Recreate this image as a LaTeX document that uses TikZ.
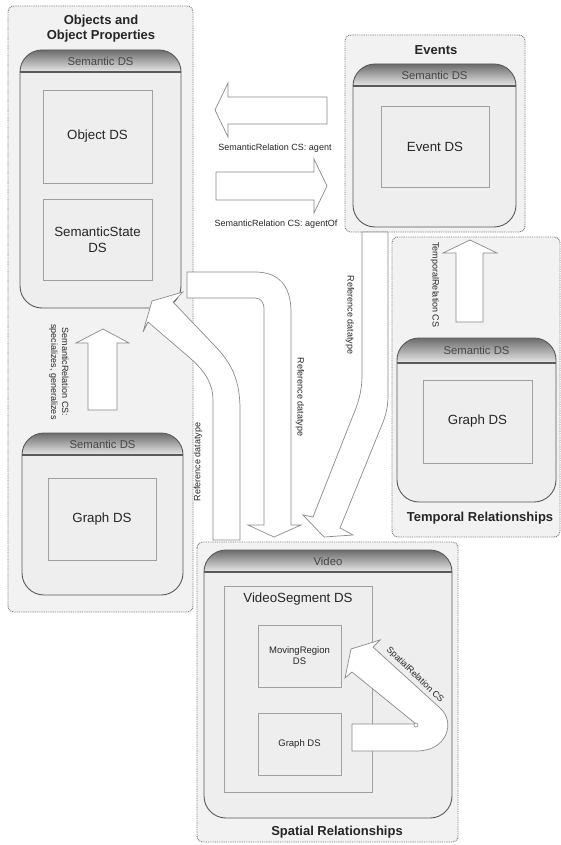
\documentclass[tikz,border=0pt]{standalone}
\usepackage{fontspec}
\setmainfont{Liberation Sans}
\definecolor{grpline}{HTML}{7A7A7A}
\definecolor{grpfill}{HTML}{F2F2F2}
\definecolor{semline}{HTML}{5A5A5A}
\definecolor{semfillc}{HTML}{EEEEEE}
\definecolor{hdtop}{HTML}{6C6C6C}
\definecolor{hdbot}{HTML}{E8E8E8}
\definecolor{boxline}{HTML}{A0A0A0}
\definecolor{arrline}{HTML}{8A8A8A}
\definecolor{txt}{HTML}{262626}

% rounded "Semantic DS"-style container with a shaded title bar
% #1 name, #2 left, #3 top, #4 right, #5 bottom, #6 bar bottom, #7 title
\newcommand\semdsbox[7]{%
  \fill[semfillc, rounded corners=22pt] (#2,#3) rectangle (#4,#5);
  \begin{scope}
    \clip[rounded corners=22pt] (#2,#3) rectangle (#4,#5);
    \shade[top color=hdtop, bottom color=hdbot] (#2,#3) rectangle (#4,#6);
  \end{scope}
  \draw[semline, line width=1.3pt] (#2,#6) -- (#4,#6);
  \draw[semframe] (#2,#3) rectangle (#4,#5);
  \node[hdtext] (#1) at ({(#2+#4)/2},{(#3+#6)/2}) {#7};
}

\begin{document}
\begin{tikzpicture}[x=1pt, y=1pt,
  groupbox/.style={draw=grpline, fill=grpfill, rounded corners=6pt,
    dash pattern=on 0.9pt off 0.9pt, line width=0.9pt},
  grouptitle/.style={font=\bfseries\fontsize{13}{15}\selectfont, text=txt, align=center, inner sep=0pt},
  semframe/.style={draw=semline, line width=0.9pt, rounded corners=22pt},
  hdtext/.style={font=\fontsize{11.3}{13}\selectfont, text=txt!85, inner sep=0pt},
  innerbox/.style={draw=boxline, fill=semfillc, line width=0.8pt, text=txt,
    font=\fontsize{13.3}{16}\selectfont, align=center, inner sep=0pt},
  smallbox/.style={innerbox, font=\fontsize{9.5}{11}\selectfont},
  blockarrow/.style={draw=arrline, fill=white, line width=0.7pt, line join=miter},
  lbl/.style={font=\fontsize{9}{11}\selectfont, text=txt, inner sep=0pt, align=center},
]
\useasboundingbox (0,0) rectangle (561,-845);
\fill[white] (0,0) rectangle (561,-845);

% ---- grouping frames ----
\draw[groupbox] (8,-6) rectangle (193,-612);
\draw[groupbox] (345,-35) rectangle (525,-232);
\draw[groupbox] (392,-237) rectangle (560,-537);
\draw[groupbox] (197,-542) rectangle (458,-842);

\node[grouptitle] (objtitle) at (101,-28.5) {Objects and\\Object Properties};
\node[grouptitle] (evtitle) at (436,-50) {Events};
\node[grouptitle] (temptitle) at (480,-518) {Temporal Relationships};
\node[grouptitle] (spattitle) at (337,-832) {Spatial Relationships};

% ---- description scheme containers ----
\semdsbox{objsem}{20}{-50}{181}{-308}{-72}{Semantic DS}
\semdsbox{graphsem}{22}{-433}{183}{-595}{-455}{Semantic DS}
\semdsbox{eventsem}{353}{-64}{516}{-227}{-86}{Semantic DS}
\semdsbox{tempsem}{397}{-338}{556}{-502}{-363}{Semantic DS}
\semdsbox{video}{204}{-550}{452}{-818}{-572}{Video}

\node[innerbox, minimum width=109pt, minimum height=93pt] (objectds) at (97.5,-136.5) {Object DS};
\node[innerbox, minimum width=109pt, minimum height=81pt] (semstate) at (97.5,-239.5) {SemanticState\\DS};
\node[innerbox, minimum width=108pt, minimum height=82pt] (objgraph) at (102,-519) {Graph DS};
\node[innerbox, minimum width=108pt, minimum height=81pt] (eventds) at (435,-146.5) {Event DS};
\node[innerbox, minimum width=109pt, minimum height=83pt] (tempgraph) at (477.5,-421.5) {Graph DS};
\node[innerbox, minimum width=148pt, minimum height=206pt] (vseg) at (298,-689) {};
\node[innerbox, draw=none, fill=none] (vseglbl) at (298,-599) {VideoSegment DS};
\node[smallbox, minimum width=83pt, minimum height=62pt] (movreg) at (299.5,-656) {MovingRegion\\DS};
\node[smallbox, minimum width=83pt, minimum height=62pt] (vidgraph) at (299.5,-744) {Graph DS};

% ---- straight block arrows ----
% agent
\draw[blockarrow] (215,-110) -- (228,-83) -- (228,-97) -- (327,-97) -- (327,-124)
  -- (228,-124) -- (228,-137) -- cycle;
\node[lbl] (agentlbl) at (275,-148) {SemanticRelation CS: agent};
% agentOf
\draw[blockarrow] (216,-172) -- (314,-172) -- (314,-159) -- (327,-186) -- (314,-213)
  -- (314,-200) -- (216,-200) -- cycle;
\node[lbl] (agentoflbl) at (276,-224) {SemanticRelation CS: agentOf};
% specializes / generalizes
\draw[blockarrow] (88,-410) -- (88,-343) -- (76,-343) -- (103,-329) -- (129,-343)
  -- (117,-343) -- (117,-410) -- cycle;
\node[lbl, rotate=-90] (speclbl) at (59,-372) {SemanticRelation CS:\\specializes, generalizes};
% temporal relation
\draw[blockarrow] (456,-322) -- (456,-253) -- (443,-253) -- (470,-240) -- (497,-253)
  -- (483,-253) -- (483,-322) -- cycle;
\node[lbl, rotate=-90] (templbl) at (435,-285) {TemporalRelation CS};

% ---- bent block arrows ----
% from the video up to the object description
\draw[blockarrow] (213,-540) -- (213,-400)
  .. controls (213,-385) and (206,-372) .. (190,-358)
  -- (148,-322) -- (143,-332) -- (152,-301) -- (183,-292) -- (173,-302)
  -- (215,-346)
  .. controls (232,-364) and (240,-380) .. (240,-410)
  -- (240,-540) -- cycle;
\node[lbl, rotate=90] (ref1lbl) at (198,-462) {Reference datatype};
% from the object description down to the video
\draw[blockarrow] (187,-272) -- (255,-272)
  .. controls (279,-272) and (291,-286) .. (291,-312)
  -- (291,-525) -- (301,-525) -- (274,-537) -- (248,-525) -- (264,-525)
  -- (264,-310) .. controls (264,-302) and (261,-298) .. (255,-298)
  -- (187,-298) -- cycle;
\node[lbl, rotate=-90] (ref2lbl) at (300,-397) {Reference datatype};
% from the events down to the video
\draw[blockarrow] (362,-232) -- (362,-375)
  .. controls (362,-392) and (358,-404) .. (352,-418)
  -- (313,-517) -- (303,-515) -- (324,-537) -- (353,-535) -- (340,-528)
  -- (379,-432) .. controls (385,-418) and (388,-410) .. (388,-395)
  -- (388,-232) -- cycle;
\node[lbl, rotate=-90] (ref3lbl) at (350,-315) {Reference datatype};

% spatial relation inside the video segment
\draw[blockarrow] (352,-724) -- (416,-724) -- (352,-672) -- (345,-678) -- (351,-649)
  -- (380,-640) -- (373,-647) -- (440,-708)
  .. controls (456,-722) and (447,-751) .. (417,-751)
  -- (352,-751) -- cycle;
\draw[arrline, line width=0.6pt, fill=white] (416,-725) circle (2pt);
\node[lbl, rotate=-44] (spatlbl) at (415,-675) {SpatialRelation CS};
\end{tikzpicture}
\end{document}
